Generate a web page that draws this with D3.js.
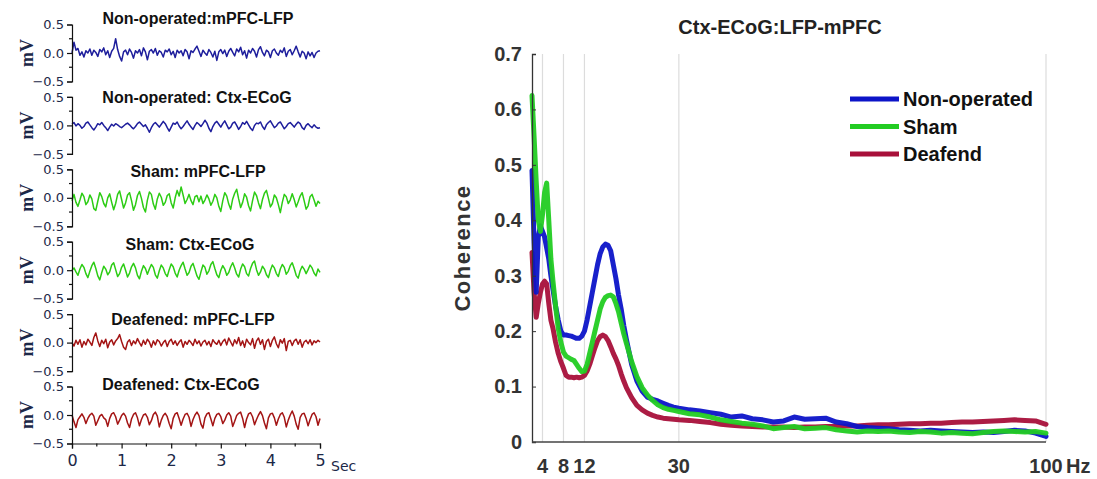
<!DOCTYPE html>
<html><head><meta charset="utf-8">
<script src="https://cdn.jsdelivr.net/npm/d3@7"></script>
<style>body{margin:0;background:#fff}svg{display:block}</style>
</head><body>
<svg id="chart" width="1097" height="479"></svg>
<script>
// ---- Raw LFP / ECoG traces (mV), 5 s each, evenly sampled ----
const traceDuration = 5;
const nonOpMpfc = [0.00,0.19,0.05,0.08,-0.04,0.02,-0.07,0.04,0.00,0.07,
-0.04,0.05,0.01,-0.06,0.06,0.02,0.09,-0.03,0.04,-0.08,
0.03,0.08,0.25,0.06,-0.06,-0.14,0.02,0.05,-0.03,0.07,
0.01,-0.09,0.04,0.00,0.06,-0.05,0.09,0.02,-0.12,0.03,
0.06,0.00,0.08,-0.04,0.04,0.01,-0.07,0.05,0.02,0.07,
-0.03,0.03,-0.08,0.05,0.00,0.04,-0.05,0.06,0.02,-0.10,
0.04,0.01,0.07,0.12,0.03,-0.06,0.05,0.00,-0.04,0.06,
0.01,-0.07,0.03,-0.13,0.02,0.06,-0.01,0.05,-0.06,0.03,
0.08,0.01,-0.05,0.07,0.02,0.10,-0.03,0.04,-0.09,0.05,
0.00,0.08,0.03,-0.07,0.06,0.11,0.01,-0.05,0.05,0.02,
-0.08,0.04,0.07,0.00,-0.04,0.05,0.01,0.09,-0.06,0.03,
0.06,-0.03,0.04,0.12,0.02,-0.07,0.03,0.00,-0.10,0.02,
-0.05,0.01,-0.08,0.00,0.03,0.04];
const nonOpCtx = [0.02,0.05,-0.01,0.03,0.00,-0.05,-0.02,0.04,0.06,0.01,
-0.04,-0.08,-0.03,0.03,0.01,0.05,0.00,-0.04,-0.09,-0.03,
0.02,-0.01,0.03,0.01,-0.02,-0.04,-0.01,0.02,0.04,0.01,
-0.03,-0.06,-0.02,0.03,0.06,0.02,-0.02,0.01,-0.05,-0.12,
-0.04,0.02,0.05,0.01,-0.03,0.02,0.07,0.03,-0.04,-0.10,
-0.03,0.04,0.02,0.06,-0.01,-0.06,-0.02,0.03,0.08,0.02,
-0.03,-0.07,0.00,0.05,0.02,-0.02,0.03,0.09,0.04,-0.05,
-0.11,-0.02,0.04,0.07,0.02,-0.03,0.03,0.08,0.01,-0.06,
-0.03,0.04,0.06,0.00,-0.07,-0.02,0.05,0.02,0.07,0.01,
-0.05,-0.09,0.00,0.04,0.03,0.06,-0.02,-0.07,0.01,0.05,
0.08,0.02,-0.04,-0.01,0.04,0.06,0.00,-0.06,-0.02,0.03,
0.05,0.01,-0.03,0.02,0.06,0.03,-0.04,-0.07,0.00,0.03,
-0.01,-0.04,0.01,-0.03,-0.05,-0.04];
const shamMpfc = [-0.05,0.06,-0.08,-0.15,-0.04,0.08,0.02,-0.12,-0.07,0.05,
-0.02,-0.19,-0.22,-0.06,0.09,0.02,-0.10,-0.16,0.00,0.07,
-0.08,-0.21,-0.10,0.06,0.12,-0.03,-0.18,-0.09,0.05,0.09,
-0.05,-0.22,-0.12,0.04,0.11,-0.01,-0.17,-0.25,-0.04,0.10,
0.06,-0.11,-0.20,-0.02,0.08,0.01,-0.13,-0.08,0.04,0.07,
-0.09,-0.18,0.00,0.13,0.03,0.19,0.05,-0.10,-0.03,0.06,
-0.05,-0.12,0.02,0.04,-0.07,0.03,-0.10,-0.04,0.05,-0.02,
-0.13,-0.06,0.06,0.00,-0.15,-0.24,-0.05,0.09,0.03,-0.11,
-0.20,-0.02,0.08,0.15,-0.02,-0.17,-0.08,0.07,0.01,-0.14,
-0.23,-0.05,0.10,0.04,-0.09,-0.19,-0.03,0.08,0.13,-0.01,
-0.16,-0.10,0.05,0.00,-0.12,-0.26,-0.08,0.06,0.02,-0.10,
-0.04,0.07,-0.03,-0.16,-0.07,0.03,0.09,-0.05,-0.20,-0.14,
0.02,0.06,-0.04,-0.15,-0.06,-0.10];
const shamCtx = [0.00,0.04,-0.03,-0.09,0.02,0.10,0.05,-0.06,-0.13,-0.02,
0.08,0.14,0.03,-0.10,-0.17,-0.04,0.07,0.02,-0.08,-0.03,
0.09,0.13,0.01,-0.11,-0.06,0.05,0.11,0.00,-0.12,-0.05,
0.06,0.12,0.04,-0.09,-0.15,-0.02,0.08,0.03,-0.07,0.02,
0.10,0.05,-0.08,-0.14,-0.01,0.09,0.04,-0.06,-0.11,0.01,
0.11,0.06,-0.05,-0.12,0.00,0.08,0.14,0.02,-0.09,-0.04,
0.07,0.12,0.01,-0.10,-0.16,-0.03,0.09,0.05,-0.07,-0.01,
0.10,0.15,0.03,-0.08,-0.13,0.00,0.08,0.02,-0.09,-0.04,
0.06,0.13,0.04,-0.07,-0.12,0.02,0.11,0.06,-0.06,-0.10,
0.03,0.12,0.16,0.01,-0.09,-0.03,0.07,0.02,-0.08,-0.13,
0.00,0.09,0.04,-0.06,-0.11,0.02,0.10,0.05,-0.07,-0.02,
0.08,0.13,0.03,-0.09,-0.14,-0.01,0.07,0.02,-0.06,0.01,
0.09,0.04,-0.05,-0.10,0.02,-0.04];
const deafMpfc = [0.00,-0.06,0.04,-0.03,0.05,-0.08,0.02,-0.04,0.06,0.01,
-0.05,0.09,0.17,0.03,-0.07,0.04,-0.02,0.06,-0.09,0.01,
0.05,-0.04,0.03,0.07,0.14,0.02,-0.08,-0.12,0.01,0.05,
-0.05,0.03,-0.02,0.07,0.00,-0.06,0.04,-0.03,0.06,0.01,
-0.08,0.03,-0.04,0.05,0.02,-0.06,0.00,0.04,-0.07,0.02,
0.06,-0.03,0.03,-0.05,0.01,0.05,-0.08,0.02,-0.03,0.04,
0.00,-0.05,0.06,-0.02,0.03,-0.06,0.01,0.04,-0.04,0.02,
-0.07,0.05,0.00,-0.03,0.04,-0.05,0.02,0.06,-0.04,0.08,
0.01,-0.06,0.05,-0.02,0.09,-0.05,0.03,-0.08,0.06,0.00,
-0.04,0.07,-0.10,0.03,0.08,-0.03,0.05,-0.12,0.02,0.06,
-0.07,0.04,0.10,-0.02,-0.09,0.05,-0.01,0.07,-0.14,0.02,
0.04,-0.05,0.03,0.06,-0.03,0.05,-0.08,0.01,0.04,-0.02,
0.05,-0.04,0.03,0.00,0.04,0.01];
const deafCtx = [0.00,-0.12,-0.22,-0.08,-0.03,0.02,-0.04,-0.15,-0.06,0.00,
0.03,-0.02,-0.18,-0.10,-0.02,0.01,-0.05,-0.08,-0.20,-0.06,
0.02,0.04,-0.03,-0.16,-0.09,-0.01,0.03,-0.02,-0.14,-0.22,
-0.07,0.01,0.04,-0.05,-0.19,-0.08,0.00,0.02,-0.04,-0.17,
-0.10,0.01,0.05,-0.02,-0.21,-0.09,-0.01,0.03,-0.03,-0.15,
-0.24,-0.06,0.02,0.04,-0.06,-0.18,-0.07,0.01,0.03,-0.04,
-0.20,-0.08,0.00,0.05,-0.01,-0.16,-0.23,-0.05,0.02,0.04,
-0.07,-0.19,-0.06,0.01,0.03,-0.03,-0.15,-0.09,0.00,0.04,
-0.02,-0.20,-0.11,-0.01,0.03,0.05,-0.06,-0.22,-0.07,0.02,
0.04,-0.03,-0.17,-0.08,0.00,0.06,-0.01,-0.14,-0.24,-0.05,
0.02,0.03,-0.05,-0.18,-0.07,0.01,0.04,-0.04,-0.21,-0.09,
0.00,0.07,-0.02,-0.16,-0.25,-0.04,0.02,0.03,-0.06,-0.19,
-0.08,0.01,0.04,-0.03,-0.18,-0.06];
const traceTitles = ["Non-operated:mPFC-LFP","Non-operated: Ctx-ECoG","Sham: mPFC-LFP",
  "Sham: Ctx-ECoG","Deafened: mPFC-LFP","Deafened: Ctx-ECoG"];
const traceSeries = [nonOpMpfc, nonOpCtx, shamMpfc, shamCtx, deafMpfc, deafCtx];
const traceYTicks = [0.5, 0.0, -0.5];
const traceXTicks = [0, 1, 2, 3, 4, 5];

// ---- Coherence spectrum, Ctx-ECoG vs mPFC-LFP ----
const freqHz = [2,2.4,2.8,3.2,3.6,4,4.4,4.8,5.2,5.6,
6,6.5,7,7.5,8,8.5,9,9.5,10,10.5,11,11.5,12,12.5,13,13.5,14,14.5,15,15.5,16,16.5,17,17.5,18,18.5,19,19.5,20,
21,22,23,24,25,26,27,28,29,30,
32,34,36,38,40,42,44,46,48,50,52,54,56,58,60,62,64,66,68,70,72,74,76,78,80,82,84,86,88,90,92,94,96,98,100];
const cohNonOperated = [0.49,0.36,0.27,0.37,0.39,0.38,0.37,0.35,0.33,0.30,
0.275,0.245,0.22,0.20,0.193,0.193,0.192,0.191,0.189,0.187,0.187,0.191,0.20,0.22,0.245,0.27,0.295,0.32,0.34,0.352,0.357,0.355,0.345,0.32,0.295,0.265,0.24,0.21,0.185,
0.14,0.11,0.092,0.081,0.077,0.074,0.070,0.066,0.063,0.061,
0.058,0.056,0.053,0.050,0.045,0.047,0.042,0.040,0.036,0.038,0.045,0.041,0.042,0.043,0.036,0.033,0.028,0.026,0.025,0.024,0.022,0.021,0.020,0.021,0.020,0.019,0.018,0.017,0.018,0.017,0.019,0.021,0.020,0.016,0.010];
const cohSham = [0.625,0.55,0.47,0.40,0.38,0.41,0.45,0.467,0.40,0.33,
0.29,0.245,0.205,0.18,0.162,0.155,0.152,0.149,0.147,0.140,0.133,0.127,0.128,0.14,0.16,0.18,0.20,0.22,0.24,0.253,0.261,0.264,0.265,0.262,0.25,0.235,0.215,0.195,0.178,
0.145,0.118,0.098,0.085,0.075,0.067,0.062,0.059,0.057,0.055,
0.051,0.049,0.045,0.040,0.037,0.034,0.032,0.029,0.024,0.026,0.028,0.024,0.025,0.026,0.022,0.020,0.018,0.020,0.019,0.020,0.018,0.017,0.019,0.018,0.016,0.017,0.016,0.015,0.017,0.019,0.020,0.019,0.018,0.019,0.016];
const cohDeafened = [0.342,0.27,0.225,0.25,0.27,0.285,0.29,0.285,0.25,0.22,
0.205,0.18,0.16,0.145,0.133,0.12,0.117,0.117,0.116,0.117,0.116,0.117,0.12,0.128,0.14,0.155,0.17,0.183,0.19,0.193,0.19,0.183,0.172,0.16,0.15,0.138,0.123,0.11,0.098,
0.08,0.066,0.058,0.052,0.048,0.045,0.043,0.042,0.041,0.040,
0.039,0.037,0.035,0.032,0.030,0.029,0.028,0.027,0.027,0.027,0.026,0.027,0.027,0.028,0.028,0.029,0.029,0.030,0.031,0.031,0.032,0.033,0.033,0.034,0.034,0.035,0.036,0.036,0.037,0.038,0.039,0.040,0.039,0.038,0.032];
const groupNames = ["Non-operated","Sham","Deafend"];
const cohTicks = [0,0.1,0.2,0.3,0.4,0.5,0.6,0.7];
const freqTicks = [4,8,12,30,100];

// ---- styling ----
const traceColors = ["#1e1e9c","#1e1e9c","#2ccc14","#2ccc14","#a31414","#a31414"];
const cohColors = {"Non-operated":"#0c14c8","Sham":"#22cc22","Deafend":"#a8103a"};
const navy = "#1c2848";

const svg = d3.select("#chart");

// ===== Left: raw traces =====
const tx = d3.scaleLinear().domain([0, traceDuration]).range([72, 320]);
const panelZero0 = 53, panelPitch = 72.4, halfH = 28.5;
const titleY = [18, 97, 171, 244, 319, 384];
const titleX = [198, 197, 198, 190, 193, 181];

traceSeries.forEach((vals, i) => {
  const zero = panelZero0 + i * panelPitch;
  const y = d3.scaleLinear().domain([-0.5, 0.5]).range([zero + halfH, zero - halfH]);
  const g = svg.append("g");
  const step = traceDuration / (vals.length - 1);
  const line = d3.line().x((d, k) => tx(k * step)).y(d => y(d));
  g.append("path").datum(vals).attr("d", line)
    .attr("fill", "none").attr("stroke", traceColors[i]).attr("stroke-width", 1.5)
    .attr("stroke-linejoin", "round");

  // y axis
  const ax = d3.axisLeft(y).tickValues(traceYTicks).tickSize(5).tickPadding(3)
    .tickFormat(d3.format(".1f"));
  const ag = g.append("g").attr("transform", `translate(${tx(0)},0)`).call(ax);
  ag.select(".domain").attr("stroke", "#111").attr("stroke-width", 1.2);
  ag.selectAll(".tick line").attr("stroke", "#111").attr("stroke-width", 1.2);
  ag.selectAll(".tick text").attr("font-family", "DejaVu Sans").attr("font-size", 13)
    .attr("fill", navy);
  // minor ticks
  g.selectAll(".minor").data([0.25, -0.25]).enter().append("line")
    .attr("x1", tx(0) - 3).attr("x2", tx(0)).attr("y1", d => y(d)).attr("y2", d => y(d))
    .attr("stroke", "#111").attr("stroke-width", 1.2);

  g.append("text").attr("transform", `translate(27,${zero}) rotate(-90)`)
    .attr("text-anchor", "middle").attr("dy", "0.35em")
    .attr("font-family", "Liberation Serif").attr("font-weight", "bold")
    .attr("font-size", 18).attr("fill", navy).text("mV");

  g.append("text").attr("x", titleX[i]).attr("y", titleY[i]).attr("dy", "0.35em")
    .attr("text-anchor", "middle").attr("font-family", "Liberation Sans")
    .attr("font-weight", "bold").attr("font-size", 16).attr("fill", "#111")
    .text(traceTitles[i]);

  if (i === traceSeries.length - 1) {
    const base = zero + halfH;
    const xa = d3.axisBottom(tx).tickValues(traceXTicks).tickSize(5).tickPadding(6)
      .tickFormat(d3.format("d"));
    const xg = g.append("g").attr("transform", `translate(0,${base})`).call(xa);
    xg.select(".domain").attr("stroke", "#111").attr("stroke-width", 1.2);
    xg.selectAll(".tick line").attr("stroke", "#111").attr("stroke-width", 1.2);
    xg.selectAll(".tick text").attr("font-family", "DejaVu Sans").attr("font-size", 16)
      .attr("fill", navy);
    g.selectAll(".xminor").data(d3.range(0.5, traceDuration, 1)).enter().append("line")
      .attr("x1", d => tx(d)).attr("x2", d => tx(d)).attr("y1", base).attr("y2", base + 3)
      .attr("stroke", "#111").attr("stroke-width", 1.2);
    g.append("text").attr("x", tx(traceDuration) + 11).attr("y", base + 27)
      .attr("font-family", "DejaVu Sans").attr("font-size", 14).attr("fill", navy).text("Sec");
  }
});

// ===== Right: coherence =====
const fx = d3.scaleLinear().domain([2, 100]).range([532, 1046]);
const cy = d3.scaleLinear().domain([0, 0.7]).range([442, 54]);
const rg = svg.append("g");

// grid lines at the marked frequencies
rg.selectAll(".grid").data(freqTicks).enter().append("line")
  .attr("x1", d => fx(d)).attr("x2", d => fx(d)).attr("y1", cy(0.7)).attr("y2", cy(0))
  .attr("stroke", "#dcdcdc").attr("stroke-width", 1.2);

const series = [
  {name: "Deafend", vals: cohDeafened},
  {name: "Non-operated", vals: cohNonOperated},
  {name: "Sham", vals: cohSham}
];
const cline = d3.line().x((d, k) => fx(freqHz[k])).y(d => cy(d));
series.forEach(s => {
  rg.append("path").datum(s.vals).attr("d", cline).attr("fill", "none")
    .attr("stroke", cohColors[s.name]).attr("stroke-width", 5)
    .attr("stroke-linejoin", "round").attr("stroke-linecap", "round").attr("opacity", 0.95);
});

// axes
const yAx = d3.axisRight(cy).tickValues(cohTicks).tickSize(4)
  .tickFormat(d => d === 0 ? "0" : d3.format(".1f")(d));
const yg = rg.append("g").attr("transform", `translate(${fx(2)},0)`).call(yAx);
yg.select(".domain").attr("stroke", "#333").attr("stroke-width", 1.3);
yg.selectAll(".tick line").attr("stroke", "#333");
yg.selectAll(".tick text").attr("x", -10).attr("text-anchor", "end")
  .attr("font-family", "Liberation Sans").attr("font-weight", "bold").attr("font-size", 20)
  .attr("fill", "#333");

rg.append("line").attr("x1", fx(2)).attr("x2", fx(100)).attr("y1", cy(0)).attr("y2", cy(0))
  .attr("stroke", "#444").attr("stroke-width", 1.5);

rg.selectAll(".flab").data(freqTicks).enter().append("text")
  .attr("x", d => fx(d)).attr("y", 473).attr("text-anchor", "middle")
  .attr("font-family", "Liberation Sans").attr("font-weight", "bold").attr("font-size", 20)
  .attr("fill", "#333").text(d => d);
rg.append("text").attr("x", fx(100) + 20).attr("y", 473)
  .attr("font-family", "Liberation Sans").attr("font-weight", "bold").attr("font-size", 20)
  .attr("fill", "#333").text("Hz");

rg.append("text").attr("transform", `translate(470,${cy(0.35)}) rotate(-90)`)
  .attr("text-anchor", "middle").attr("font-family", "Liberation Sans")
  .attr("font-weight", "bold").attr("font-size", 22).attr("letter-spacing", 1.5)
  .attr("fill", "#333").text("Coherence");

rg.append("text").attr("x", 780).attr("y", 34).attr("text-anchor", "middle")
  .attr("font-family", "Liberation Sans").attr("font-weight", "bold").attr("font-size", 20)
  .attr("fill", "#222").text("Ctx-ECoG:LFP-mPFC");

// legend
const lg = rg.append("g");
groupNames.forEach((n, i) => {
  const yy = 99 + i * 27.5;
  lg.append("line").attr("x1", 850).attr("x2", 899).attr("y1", yy).attr("y2", yy)
    .attr("stroke", cohColors[n]).attr("stroke-width", 5);
  lg.append("text").attr("x", 903).attr("y", yy).attr("dy", "0.36em")
    .attr("font-family", "Liberation Sans").attr("font-weight", "bold").attr("font-size", 20)
    .attr("fill", "#111").text(n);
});
</script>
</body></html>
